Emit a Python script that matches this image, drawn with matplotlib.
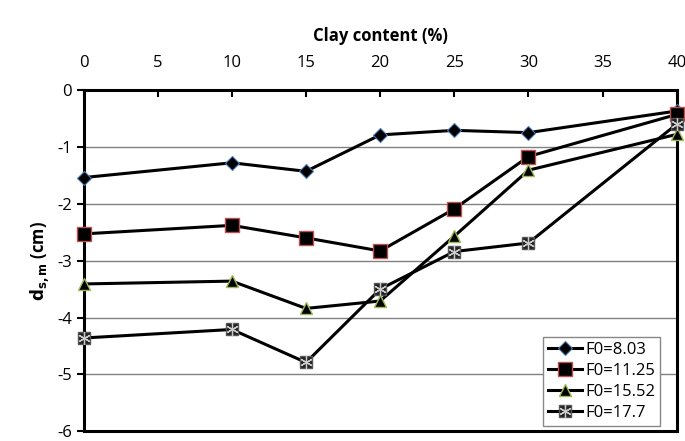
import matplotlib
matplotlib.use("Agg")
import matplotlib.pyplot as plt
from matplotlib.legend_handler import HandlerTuple

plt.rcParams["font.family"] = ["Open Sans", "DejaVu Sans"]
plt.rcParams["axes.unicode_minus"] = False

clay = [0, 10, 15, 20, 25, 30, 40]
f0_803 = [-1.54, -1.28, -1.43, -0.79, -0.71, -0.75, -0.37]
f0_1125 = [-2.53, -2.38, -2.60, -2.83, -2.09, -1.17, -0.43]
f0_1552 = [-3.41, -3.36, -3.84, -3.71, -2.57, -1.41, -0.78]
f0_177 = [-4.36, -4.21, -4.79, -3.50, -2.84, -2.69, -0.60]
labels = ["F0=8.03", "F0=11.25", "F0=15.52", "F0=17.7"]

fig = plt.figure(figsize=(6.85, 4.41), dpi=100)
ax = fig.add_axes([0.122, 0.022, 0.866, 0.774])

ax.yaxis.grid(True, color="#808080", linewidth=1.0)
ax.set_axisbelow(True)

kw = dict(color="black", lw=2.2, zorder=3, clip_on=False)
l1, = ax.plot(clay, f0_803, marker="D", ms=7, mfc="black", mec="#4a7ab5", mew=0.8, **kw)
l2, = ax.plot(clay, f0_1125, marker="s", ms=10, mfc="black", mec="#c0504d", mew=1.0, **kw)
l3, = ax.plot(clay, f0_1552, marker="^", ms=9, mfc="black", mec="#9bbb59", mew=1.0, **kw)
l4, = ax.plot(clay, f0_177, marker="s", ms=9, mfc="#222222", mec="#555555", mew=1.0, **kw)
l4b, = ax.plot(clay, f0_177, ls="none", marker=(6, 2, 0), ms=9,
               mec="#cccccc", mew=0.9, zorder=4, clip_on=False)

ax.set_xlim(0, 40)
ax.set_ylim(-6, 0)
ax.set_xticks(range(0, 41, 5))
ax.set_yticks(range(-6, 1))
ax.xaxis.tick_top()
ax.xaxis.set_label_position("top")
ax.tick_params(axis="x", direction="in", length=5, width=1.5, labelsize=12, pad=14)
ax.tick_params(axis="y", direction="out", length=5, width=1.5, labelsize=12)
for s in ax.spines.values():
    s.set_linewidth(2.2)

ax.set_xlabel("Clay content (%)", fontsize=12, fontweight="bold", labelpad=10)
ax.set_ylabel(r"$\mathbf{d_{s,m}}$ (cm)", fontsize=12, fontweight="bold")

leg = ax.legend([l1, l2, l3, (l4, l4b)], labels, loc="lower right",
                handler_map={tuple: HandlerTuple(ndivide=1, pad=0)},
                fontsize=12, fancybox=False, edgecolor="#888888",
                framealpha=1, handlelength=2.0, borderaxespad=0.3,
                bbox_to_anchor=(0.98, 0.0),
                labelspacing=0.3, handletextpad=0.2, borderpad=0.3)
leg.get_frame().set_linewidth(1.0)

fig.savefig("out.png", dpi=100)
